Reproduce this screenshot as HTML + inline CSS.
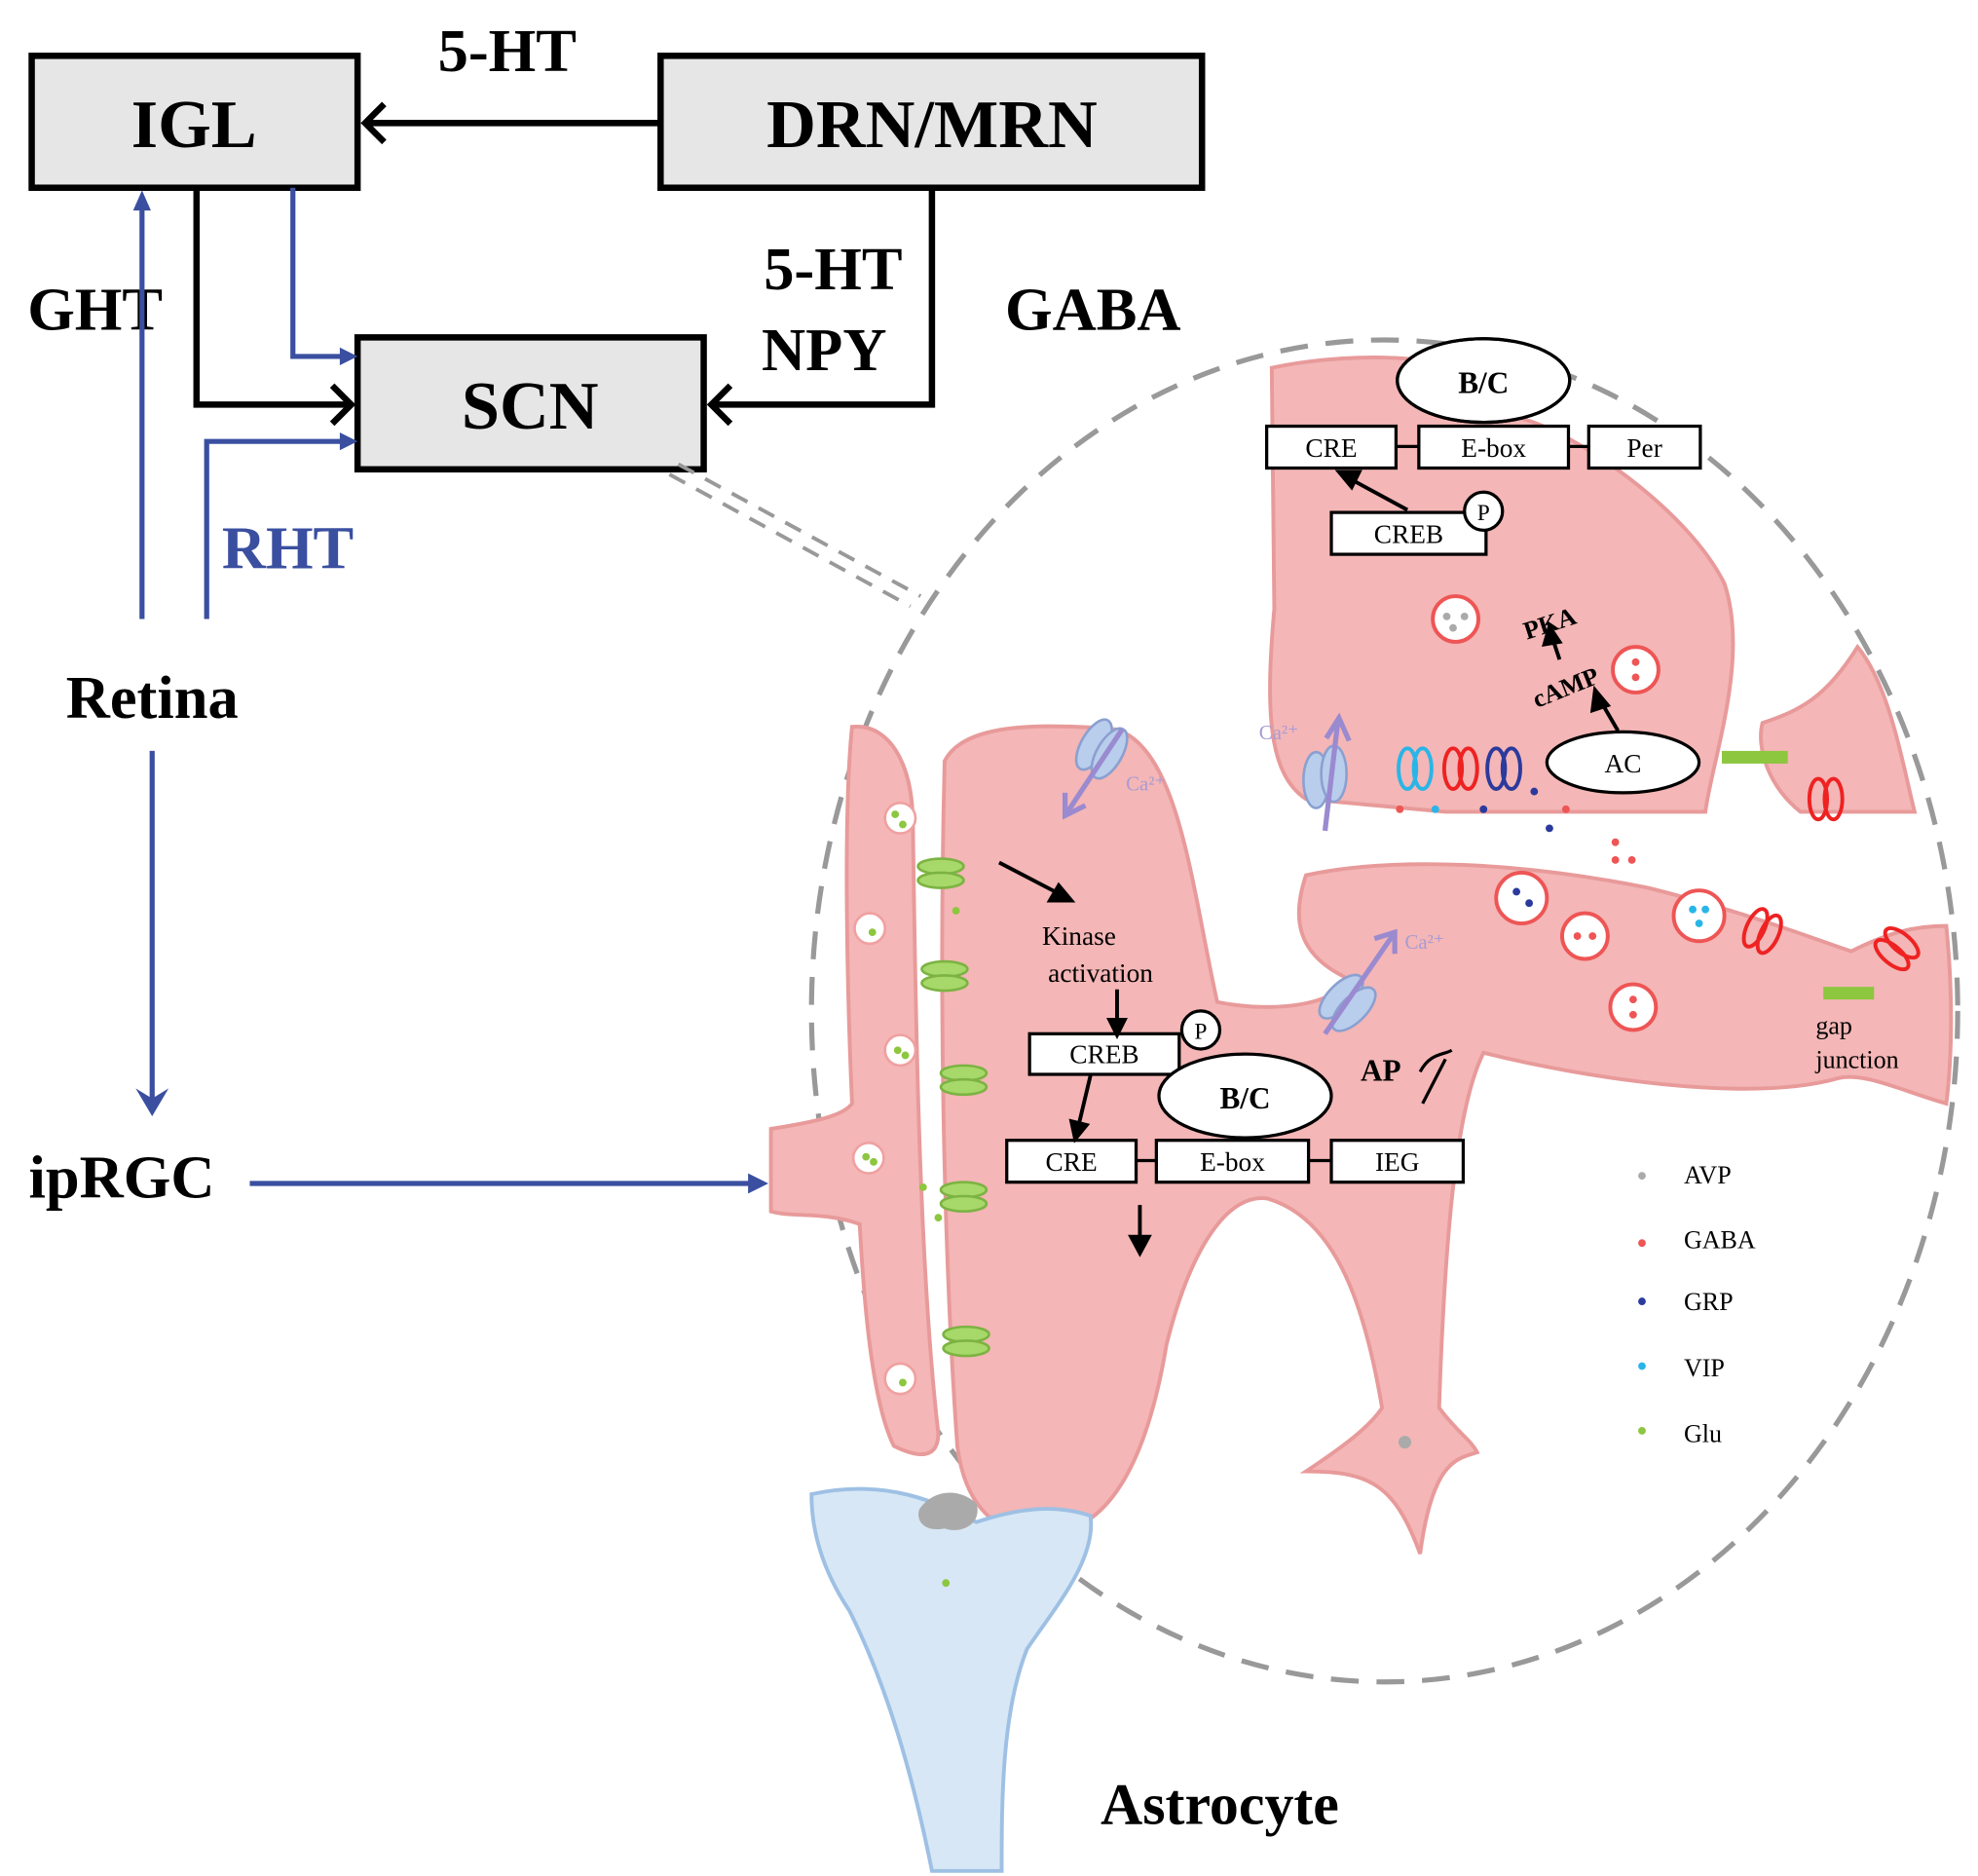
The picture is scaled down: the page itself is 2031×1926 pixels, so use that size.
<!DOCTYPE html>
<html><head><meta charset="utf-8"><style>
html,body{margin:0;padding:0;background:#fff}
svg{display:block}
text{font-family:"Liberation Serif",serif}
</style></head><body>
<svg width="2031" height="1926" viewBox="0 0 1560 1479" preserveAspectRatio="none" xmlns="http://www.w3.org/2000/svg">
<defs>
<marker id="ab" markerWidth="10" markerHeight="10" refX="8" refY="5" orient="auto" markerUnits="userSpaceOnUse"><path d="M0,0 L9,5 L0,10" fill="none" stroke="#000" stroke-width="0"/></marker>
</defs>
<!-- boxes -->
<rect x="25" y="44" width="257" height="104" fill="#e6e6e6" stroke="#000" stroke-width="5"/>
<rect x="521" y="44" width="427" height="104" fill="#e6e6e6" stroke="#000" stroke-width="5"/>
<rect x="282" y="266" width="273" height="104" fill="#e6e6e6" stroke="#000" stroke-width="5"/>
<g font-weight="bold" text-anchor="middle">
<text x="153" y="116" font-size="54">IGL</text>
<text x="735" y="116" font-size="54">DRN/MRN</text>
<text x="418" y="338" font-size="54">SCN</text>
<text x="400" y="56" font-size="48">5-HT</text>
<text x="657" y="228" font-size="48">5-HT</text>
<text x="650" y="292" font-size="48">NPY</text>
<text x="862" y="260" font-size="48">GABA</text>
<text x="75" y="260" font-size="48">GHT</text>
<text x="227" y="448" font-size="48" fill="#3a4fa0">RHT</text>
<text x="120" y="566" font-size="48">Retina</text>
<text x="96" y="944" font-size="48">ipRGC</text>
<text x="962" y="1438" font-size="46">Astrocyte</text>
</g>
<!-- black connectors -->
<g fill="none" stroke="#000" stroke-width="5">
<line x1="521" y1="97" x2="288" y2="97"/><path d="M303,82 L288,97 L303,112"/>
<path d="M155,148 V319 H276"/><path d="M262,304 L277,319 L262,334"/>
<path d="M735,148 V319 H561"/><path d="M576,304 L561,319 L576,334"/>
</g>
<!-- blue connectors -->
<g fill="none" stroke="#3a4fa0" stroke-width="4">
<path d="M231,148 V281 H272"/><path d="M112,488 V160"/>
<path d="M163,488 V348 H272"/>
<line x1="120" y1="592" x2="120" y2="870"/>
<line x1="197" y1="933" x2="595" y2="933"/>
</g>
<g fill="#3a4fa0">
<path d="M282,281 L268,274 L268,288Z"/><path d="M282,348 L268,341 L268,355Z"/>
<path d="M112,150 L105,166 L119,166Z"/>
<path d="M120,880 L107,858 L120,866 L133,858Z"/>
<path d="M606,933 L590,925 L590,941Z"/>
</g>
<!-- dashed circle -->
<ellipse cx="1092" cy="797" rx="452" ry="529" fill="none" stroke="#999" stroke-width="4" stroke-dasharray="22,14"/>
<g stroke="#999" stroke-width="3" stroke-dasharray="14,10" fill="none">
<line x1="528" y1="374" x2="718" y2="478"/><line x1="535" y1="366" x2="726" y2="470"/>
</g>
<!-- cells -->
<g fill="#f4b6b6" stroke="#e89a9a" stroke-width="3">
<path d="M1003,290 C1050,280 1130,275 1180,300 L1200,330 C1240,340 1330,400 1360,460 C1380,520 1350,600 1345,640 L1140,640 L1030,630 C1000,610 998,560 1005,480 Z"/>
<path d="M1390,570 C1420,560 1440,550 1465,510 C1490,540 1500,600 1510,640 L1420,640 C1395,620 1385,590 1390,570Z"/>
<path d="M1030,690 C1100,675 1200,680 1300,700 C1380,720 1430,740 1460,750 C1490,735 1510,730 1535,730 C1540,780 1540,830 1535,870 C1500,860 1470,845 1450,850 C1380,870 1250,850 1170,830 C1150,870 1140,960 1135,1110 C1150,1130 1160,1135 1165,1145 C1150,1150 1130,1150 1120,1225 C1100,1170 1080,1160 1030,1160 C1060,1140 1080,1125 1090,1110 C1075,1020 1050,960 1000,945 C970,940 940,980 920,1060 C900,1180 860,1210 820,1210 C780,1210 760,1180 755,1140 C745,1000 740,800 745,600 C760,570 820,570 880,575 C930,590 940,700 960,790 C1010,800 1060,790 1060,770 C1020,750 1020,720 1030,690Z"/>
<path d="M672,573 C700,570 720,600 720,650 C722,800 725,1000 740,1130 C740,1150 725,1150 705,1140 C685,1100 680,1000 678,965 C650,955 625,960 608,955 L608,890 C640,885 665,880 672,870 C668,780 665,640 672,573Z"/>
</g>
<!-- astrocyte -->
<path d="M640,1178 C700,1165 740,1185 770,1200 C800,1190 830,1185 860,1195 C865,1230 830,1270 810,1300 C790,1350 790,1420 790,1475 L735,1475 C720,1400 700,1330 670,1270 C650,1240 640,1210 640,1178Z" fill="#d7e7f5" stroke="#9ec0e4" stroke-width="3"/>
<path d="M725,1190 C735,1175 755,1172 770,1185 C775,1200 760,1210 745,1205 C730,1208 722,1200 725,1190Z" fill="#aaa"/>
<line x1="852" y1="1210" x2="0" y2="0" stroke="none"/>
<!-- vesicles -->
<g fill="#fff" stroke="#e55" stroke-width="3">
<circle cx="1148" cy="488" r="18"/><circle cx="1290" cy="528" r="18"/><circle cx="1200" cy="708" r="20"/><circle cx="1250" cy="738" r="18"/><circle cx="1340" cy="722" r="20"/><circle cx="1288" cy="794" r="18"/>
</g>
<g fill="#fff" stroke="#f0a0a0" stroke-width="2">
<circle cx="710" cy="645" r="12"/><circle cx="686" cy="732" r="12"/><circle cx="710" cy="828" r="12"/><circle cx="685" cy="913" r="12"/><circle cx="710" cy="1087" r="12"/>
</g>
<g fill="#aaa"><circle cx="1141" cy="486" r="3"/><circle cx="1155" cy="486" r="3"/><circle cx="1146" cy="495" r="3"/><circle cx="1108" cy="1137" r="5"/><circle cx="1295" cy="927" r="3"/></g>
<g fill="#e55"><circle cx="1290" cy="522" r="3"/><circle cx="1290" cy="534" r="3"/><circle cx="1244" cy="738" r="3"/><circle cx="1256" cy="738" r="3"/><circle cx="1288" cy="788" r="3"/><circle cx="1288" cy="800" r="3"/><circle cx="1274" cy="664" r="3"/><circle cx="1274" cy="678" r="3"/><circle cx="1287" cy="678" r="3"/><circle cx="1104" cy="638" r="3"/><circle cx="1235" cy="638" r="3"/><circle cx="1295" cy="980" r="3"/></g>
<g fill="#2b3a9c"><circle cx="1196" cy="703" r="3"/><circle cx="1206" cy="712" r="3"/><circle cx="1170" cy="638" r="3"/><circle cx="1222" cy="653" r="3"/><circle cx="1210" cy="624" r="3"/><circle cx="1295" cy="1026" r="3"/></g>
<g fill="#29b5e8"><circle cx="1335" cy="717" r="3"/><circle cx="1345" cy="717" r="3"/><circle cx="1340" cy="728" r="3"/><circle cx="1132" cy="638" r="3"/><circle cx="1295" cy="1077" r="3"/></g>
<g fill="#8dc63f"><circle cx="706" cy="642" r="3"/><circle cx="712" cy="650" r="3"/><circle cx="688" cy="735" r="3"/><circle cx="708" cy="828" r="3"/><circle cx="714" cy="832" r="3"/><circle cx="683" cy="912" r="3"/><circle cx="689" cy="916" r="3"/><circle cx="712" cy="1090" r="3"/><circle cx="754" cy="718" r="3"/><circle cx="728" cy="936" r="3"/><circle cx="740" cy="960" r="3"/><circle cx="746" cy="1248" r="3"/><circle cx="1295" cy="1128" r="3"/></g>
<!-- green receptors -->
<g fill="#a7d86a" stroke="#7cb342" stroke-width="2">
<ellipse cx="742" cy="683" rx="18" ry="6"/><ellipse cx="742" cy="694" rx="18" ry="6"/>
<ellipse cx="745" cy="764" rx="18" ry="6"/><ellipse cx="745" cy="775" rx="18" ry="6"/>
<ellipse cx="760" cy="846" rx="18" ry="6"/><ellipse cx="760" cy="857" rx="18" ry="6"/>
<ellipse cx="760" cy="938" rx="18" ry="6"/><ellipse cx="760" cy="949" rx="18" ry="6"/>
<ellipse cx="762" cy="1052" rx="18" ry="6"/><ellipse cx="762" cy="1063" rx="18" ry="6"/>
</g>
<rect x="1358" y="592" width="52" height="10" fill="#8dc63f"/><rect x="1438" y="778" width="40" height="10" fill="#8dc63f"/>
<!-- channels -->
<g fill="none" stroke-width="3">
<ellipse cx="1110" cy="606" rx="7" ry="16" stroke="#29b5e8"/><ellipse cx="1122" cy="606" rx="7" ry="16" stroke="#29b5e8"/>
<ellipse cx="1146" cy="606" rx="7" ry="16" stroke="#e22"/><ellipse cx="1158" cy="606" rx="7" ry="16" stroke="#e22"/>
<ellipse cx="1180" cy="606" rx="7" ry="16" stroke="#2b3a9c"/><ellipse cx="1192" cy="606" rx="7" ry="16" stroke="#2b3a9c"/>
<ellipse cx="1434" cy="630" rx="7" ry="16" stroke="#e22"/><ellipse cx="1446" cy="630" rx="7" ry="16" stroke="#e22"/>
<ellipse cx="1384" cy="734" rx="7" ry="16" stroke="#e22" transform="rotate(25 1390 734)"/><ellipse cx="1396" cy="734" rx="7" ry="16" stroke="#e22" transform="rotate(25 1390 734)"/>
<ellipse cx="1490" cy="748" rx="7" ry="16" stroke="#e22" transform="rotate(-50 1496 748)"/><ellipse cx="1502" cy="748" rx="7" ry="16" stroke="#e22" transform="rotate(-50 1496 748)"/>
</g>
<g fill="#b9cdec" stroke="#8aa0d0" stroke-width="2">
<ellipse cx="1038" cy="615" rx="10" ry="22"/><ellipse cx="1052" cy="610" rx="10" ry="22"/>
<ellipse cx="862" cy="590" rx="10" ry="22" transform="rotate(30 868 590)"/><ellipse cx="876" cy="590" rx="10" ry="22" transform="rotate(30 868 590)"/>
<ellipse cx="1056" cy="790" rx="10" ry="22" transform="rotate(45 1062 790)"/><ellipse cx="1070" cy="790" rx="10" ry="22" transform="rotate(45 1062 790)"/>
</g>
<g stroke="#9a8ad0" stroke-width="4" fill="none">
<line x1="1045" y1="655" x2="1055" y2="570"/><path d="M1046,582 L1056,566 L1064,584"/>
<line x1="885" y1="575" x2="842" y2="640"/><path d="M840,625 L840,643 L856,635"/>
<line x1="1045" y1="815" x2="1098" y2="738"/><path d="M1084,740 L1100,735 L1100,752"/>
</g>
<g fill="#a89bd4" font-size="16"><text x="993" y="583">Ca²⁺</text><text x="888" y="623">Ca²⁺</text><text x="1108" y="748">Ca²⁺</text></g>
<!-- gene boxes -->
<g fill="#fff" stroke="#000" stroke-width="2.5">
<ellipse cx="1170" cy="300" rx="68" ry="33"/>
<rect x="999" y="336" width="102" height="33"/><rect x="1119" y="336" width="118" height="33"/><rect x="1253" y="336" width="88" height="33"/>
<rect x="1050" y="404" width="122" height="33"/><circle cx="1170" cy="403" r="15"/>
<ellipse cx="1280" cy="601" rx="60" ry="24"/>
<rect x="812" y="815" width="118" height="32"/><circle cx="947" cy="812" r="15"/>
<ellipse cx="982" cy="864" rx="68" ry="33"/>
<rect x="794" y="899" width="102" height="33"/><rect x="912" y="899" width="120" height="33"/><rect x="1050" y="899" width="104" height="33"/>
</g>
<ellipse cx="1170" cy="300" rx="68" ry="33" fill="none" stroke="#000" stroke-width="2.5"/>
<g stroke="#000" stroke-width="2.5"><line x1="1101" y1="352" x2="1119" y2="352"/><line x1="1237" y1="352" x2="1253" y2="352"/><line x1="896" y1="915" x2="912" y2="915"/><line x1="1032" y1="915" x2="1050" y2="915"/></g>
<g font-size="21" text-anchor="middle" font-family="Liberation Serif,serif">
<text x="1170" y="310" font-weight="bold" font-size="24">B/C</text>
<text x="1050" y="360">CRE</text><text x="1178" y="360">E-box</text><text x="1297" y="360">Per</text>
<text x="1111" y="428">CREB</text><text x="1170" y="410" font-size="18">P</text>
<text x="1280" y="609">AC</text>
<text x="871" y="838">CREB</text><text x="947" y="819" font-size="18">P</text>
<text x="982" y="874" font-weight="bold" font-size="24">B/C</text>
<text x="845" y="923">CRE</text><text x="972" y="923">E-box</text><text x="1102" y="923">IEG</text>
<text x="851" y="745">Kinase</text><text x="868" y="774">activation</text>
</g>
<g font-size="20" font-weight="bold"><text x="1200" y="498" transform="rotate(-18 1222 488)">PKA</text><text x="1205" y="548" transform="rotate(-22 1235 535)">cAMP</text><text x="1073" y="852" font-size="24">AP</text></g>
<path d="M1120,845 C1128,830 1138,832 1145,828 M1122,870 L1140,835" stroke="#000" stroke-width="2.5" fill="none"/>
<g font-size="20"><text x="1432" y="815">gap</text><text x="1432" y="842">junction</text>
<text x="1328" y="933">AVP</text><text x="1328" y="984">GABA</text><text x="1328" y="1033">GRP</text><text x="1328" y="1085">VIP</text><text x="1328" y="1137">Glu</text></g>
<!-- small black arrows -->
<g stroke="#000" stroke-width="3" fill="#000">
<line x1="1110" y1="402" x2="1062" y2="376"/><path d="M1056,372 L1072,372 L1066,384Z"/>
<line x1="1276" y1="576" x2="1262" y2="552"/><path d="M1258,544 L1256,560 L1268,556Z"/>
<line x1="1230" y1="520" x2="1224" y2="502"/><path d="M1222,494 L1218,508 L1230,506Z"/>
<line x1="788" y1="680" x2="836" y2="705"/><path d="M845,710 L828,710 L835,698Z"/>
<line x1="881" y1="780" x2="881" y2="808"/><path d="M881,816 L875,804 L887,804Z"/>
<line x1="860" y1="848" x2="850" y2="890"/><path d="M848,898 L845,884 L857,887Z"/>
<line x1="899" y1="950" x2="899" y2="978"/><path d="M899,988 L892,975 L906,975Z"/>
</g>
</svg>
</body></html>
